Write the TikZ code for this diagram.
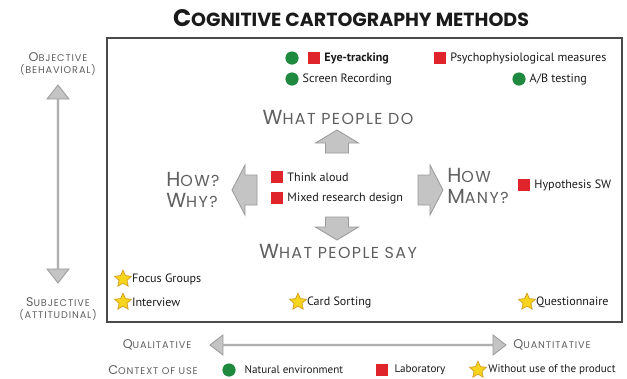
\documentclass[tikz,border=0pt]{standalone}
\usepackage{fontspec}
\setmainfont{PT Sans}
\newfontfamily\capfont[LetterSpace=9]{Poppins}
\newfontfamily\titlefont{Poppins}
\usetikzlibrary{positioning,shapes.geometric,shapes.arrows}
\definecolor{ink}{HTML}{1A1A1A}
\definecolor{capgray}{HTML}{5F5F5F}
\definecolor{boxline}{HTML}{4A4A4A}
\definecolor{natgreen}{HTML}{1F8A3F}
\definecolor{labred}{HTML}{E0242B}
\definecolor{staryel}{HTML}{F7D51D}
\definecolor{starline}{HTML}{D39B1E}
\definecolor{arrowfill}{HTML}{C4C4C4}
\definecolor{arrowline}{HTML}{9A9A9A}
\newcommand\scfirst[2]{{\fontsize{#1}{#1}\selectfont #2}}
\tikzset{
  item/.style={anchor=west,inner sep=0pt,text=ink,
               font=\fontsize{8.6}{10}\selectfont},
  legend/.style={anchor=west,inner sep=0pt,text=ink,
                 font=\fontsize{7.9}{9}\selectfont},
  bigcap/.style={inner sep=0pt,text=capgray,align=left,
                 font=\capfont\fontsize{11.3}{14.5}\selectfont},
  sidecap/.style={inner sep=0pt,text=capgray,align=center,
                  font=\capfont\fontsize{6.9}{8.8}\selectfont},
  natmark/.style={circle,fill=natgreen,minimum size=0.33cm,inner sep=0pt},
  labmark/.style={rectangle,fill=labred,minimum size=0.32cm,inner sep=0pt},
  withoutmark/.style={star,star points=5,star point ratio=2.1,fill=staryel,
                      draw=starline,line width=0.5pt,minimum size=0.44cm,
                      inner sep=0pt},
  grayblock/.style={fill=arrowfill,draw=arrowline,line width=0.6pt,
                    inner sep=0pt,line join=miter},
  frame/.style={draw=boxline,line width=1.1pt}
}
\begin{document}
\begin{tikzpicture}[x=0.025cm,y=-0.025cm]
  \useasboundingbox (0,0) rectangle (627,378);
  \node[inner sep=0pt,text=ink,font=\titlefont\bfseries\fontsize{13.5}{16}\selectfont]
    (title) at (351,18) {\scfirst{17}{C}OGNITIVE CARTOGRAPHY METHODS};
  \draw[frame] (107,38) rectangle (622,322);

  % objective / subjective axis
  \node[sidecap] (obj) at (58,64) {\scfirst{9}{O}BJECTIVE\\(BEHAVIORAL)};
  \node[sidecap] (subj) at (58,309) {\scfirst{9}{S}UBJECTIVE\\(ATTITUDINAL)};
  \node[grayblock,double arrow,shape border rotate=90,minimum height=4.95cm,
        minimum width=0.55cm,double arrow head extend=0.15cm,
        double arrow tip angle=76] (objarr) at (58,184) {};

  % what people do
  \node[natmark] (eyenat) at (292,58) {};
  \node[labmark] (eyelab) at (314,58) {};
  \node[item,font=\fontsize{8.6}{10}\selectfont\bfseries,right=2.5pt of eyelab] (eye) {Eye-tracking};
  \node[labmark] (psylab) at (440,58) {};
  \node[item,right=2.5pt of psylab] (psy) {Psychophysiological measures};
  \node[natmark] (scrnat) at (292,79) {};
  \node[item,right=2.5pt of scrnat] (scr) {Screen Recording};
  \node[natmark] (abnat) at (519,79) {};
  \node[item,right=2.5pt of abnat] (ab) {A/B testing};

  \node[bigcap] (do) at (338,117) {\scfirst{14.5}{W}HAT PEOPLE DO};
  \draw[grayblock] (337,130) -- (358.5,143) -- (348.5,143) -- (348.5,153)
    -- (325.5,153) -- (325.5,143) -- (315.5,143) -- cycle;

  % centre
  \node[bigcap,anchor=west] (how) at (166,190) {\scfirst{14.5}{H}OW?\\\scfirst{14.5}{W}HY?};
  \draw[grayblock] (232,190) -- (245,165) -- (245,175) -- (257,175)
    -- (257,205) -- (245,205) -- (245,215) -- cycle;
  \node[labmark] (thinklab) at (277,177) {};
  \node[item,right=2.5pt of thinklab] (think) {Think aloud};
  \node[labmark] (mixlab) at (277,198) {};
  \node[item,right=2.5pt of mixlab] (mix) {Mixed research design};
  \draw[grayblock] (418,175) -- (430,175) -- (430,165) -- (443,190)
    -- (430,215) -- (430,205) -- (418,205) -- cycle;
  \node[bigcap,anchor=west] (many) at (447,186) {\scfirst{14.5}{H}OW\\\scfirst{14.5}{M}ANY?};
  \node[labmark] (hyplab) at (524,185) {};
  \node[item,right=2.5pt of hyplab] (hyp) {Hypothesis SW};

  \draw[grayblock] (325.5,217) -- (348.5,217) -- (348.5,227) -- (358.5,227)
    -- (337,240) -- (315.5,227) -- (325.5,227) -- cycle;
  \node[bigcap] (say) at (338,251) {\scfirst{14.5}{W}HAT PEOPLE SAY};

  % what people say
  \node[withoutmark] (focstar) at (123,279) {};
  \node[item,right=2pt of focstar] (foc) {Focus Groups};
  \node[withoutmark] (intstar) at (123,302) {};
  \node[item,right=2pt of intstar] (int) {Interview};
  \node[withoutmark] (cardstar) at (298,302) {};
  \node[item,right=2pt of cardstar] (card) {Card Sorting};
  \node[withoutmark] (questar) at (527,302) {};
  \node[item,right=2pt of questar] (que) {Questionnaire};

  % qualitative / quantitative axis
  \node[sidecap] (qual) at (157,345) {\scfirst{9}{Q}UALITATIVE};
  \node[sidecap] (quant) at (552,345) {\scfirst{9}{Q}UANTITATIVE};
  \node[grayblock,double arrow,minimum height=7.4cm,minimum width=0.5cm,
        double arrow head extend=0.14cm,double arrow tip angle=75]
    (qqarr) at (358,345) {};

  % legend
  \node[sidecap] (ctx) at (153,370) {\scfirst{9}{C}ONTEXT OF USE};
  \node[natmark] (lgnat) at (229,370) {};
  \node[legend,right=6pt of lgnat] (lgnattxt) {Natural environment};
  \node[labmark] (lglab) at (382,370) {};
  \node[legend,right=4pt of lglab] (lglabtxt) {Laboratory};
  \node[withoutmark] (lgstar) at (478,370) {};
  \node[legend,right=3pt of lgstar] (lgstartxt) {Without use of the product};
\end{tikzpicture}
\end{document}
